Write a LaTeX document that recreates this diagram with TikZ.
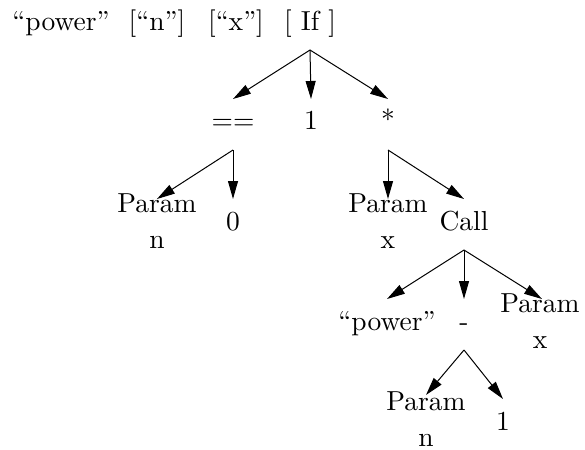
\documentclass[tikz,border=0pt]{standalone}
\usepackage{fontspec}
\setmainfont{lmroman10-regular}[Extension=.otf,Ligatures=TeX]
\usetikzlibrary{arrows.meta}
\begin{document}
\begin{tikzpicture}[x=1pt,y=-1pt,
  lbl/.style={inner sep=0pt,anchor=base,font=\fontsize{27.5}{36}\selectfont},
  arr/.style={line width=1pt,-{Triangle[length=18pt,width=10pt]}}]
\useasboundingbox (0,0) rectangle (585,449);
\newcommand{\twol}[2]{\begin{tabular}[t]{@{}c@{}}#1\\#2\end{tabular}}
% top row
\node[lbl] (pw0) at (61,31) {``power''};
\node[lbl] (pn0) at (157,31) {[``n'']};
\node[lbl] (px0) at (236,31) {[``x'']};
\node[lbl] (iff) at (310,31) {[ If ]};
% row 1
\node[lbl] (eq) at (233,130) {==};
\node[lbl] (one) at (311,130) {1};
\node[lbl] (mul) at (388,130) {*};
% row 2
\node[lbl] (parn) at (157,212) {\twol{Param}{n}};
\node[lbl] (zero) at (233,230) {0};
\node[lbl] (parx) at (388,212) {\twol{Param}{x}};
\node[lbl] (call) at (464,230) {Call};
% row 3
\node[lbl] (pw) at (387,330) {``power''};
\node[lbl] (minus) at (464,330) {-};
\node[lbl] (parx2) at (540,312) {\twol{Param}{x}};
% row 4
\node[lbl] (parn2) at (426,410) {\twol{Param}{n}};
\node[lbl] (one2) at (503,430) {1};
% connectors
\draw[arr] ([yshift=-19pt]iff.base) -- ([yshift=31pt]eq.base);
\draw[arr] ([yshift=-19pt]iff.base) -- ([yshift=31pt]one.base);
\draw[arr] ([yshift=-19pt]iff.base) -- ([yshift=31pt]mul.base);
\draw[arr] ([yshift=-20pt]eq.base) -- ([yshift=13pt]parn.base);
\draw[arr] ([yshift=-20pt]eq.base) -- ([yshift=31pt]zero.base);
\draw[arr] ([yshift=-20pt]mul.base) -- ([yshift=13pt]parx.base);
\draw[arr] ([yshift=-20pt]mul.base) -- ([yshift=31pt]call.base);
\draw[arr] ([yshift=-20pt]call.base) -- ([yshift=31pt]pw.base);
\draw[arr] ([yshift=-20pt]call.base) -- ([yshift=31pt]minus.base);
\draw[arr] ([yshift=-20pt]call.base) -- ([xshift=2pt,yshift=13pt]parx2.base);
\draw[arr] ([yshift=-20pt]minus.base) -- ([yshift=15pt]parn2.base);
\draw[arr] ([yshift=-20pt]minus.base) -- ([yshift=31pt]one2.base);
\end{tikzpicture}
\end{document}
